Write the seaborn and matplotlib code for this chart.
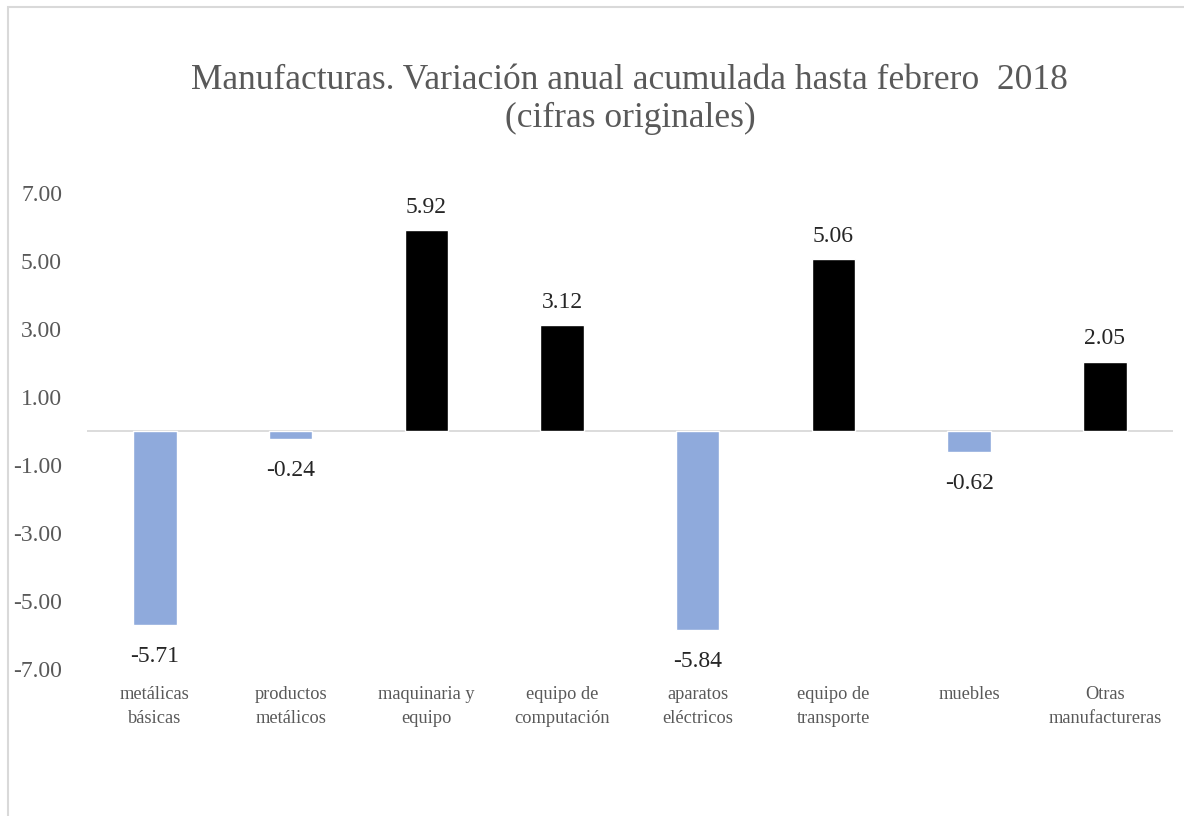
import numpy as np
import pandas as pd
import matplotlib
matplotlib.use("Agg")
import matplotlib.pyplot as plt
import seaborn as sns
from matplotlib.patches import Rectangle

categorias = ["metálicas\nbásicas", "productos\nmetálicos", "maquinaria y\nequipo",
              "equipo de\ncomputación", "aparatos\neléctricos", "equipo de\ntransporte",
              "muebles", "Otras\nmanufactureras"]
variacion = [-5.71, -0.24, 5.92, 3.12, -5.84, 5.06, -0.62, 2.05]
yticks = [-7, -5, -3, -1, 1, 3, 5, 7]

sns.set_theme(style="white")
plt.rcParams['font.family'] = ['Liberation Serif', 'DejaVu Serif']

gris = "#595959"
colores = ["#8FAADC" if v < 0 else "#000000" for v in variacion]
df = pd.DataFrame({"cat": categorias, "val": variacion})

fig = plt.figure(figsize=(11.84, 8.16), dpi=100)
ax = fig.add_axes([0.0735, 0.18, 0.917, 0.583])

sns.barplot(data=df, x="cat", y="val", hue="cat", palette=colores,
            legend=False, width=0.32, saturation=1, ax=ax)

ax.set_ylim(-7, 7)
ax.set_xlim(-0.5, len(categorias) - 0.5)
ax.set_yticks(yticks)
ax.set_yticklabels([f"{t:.2f}" for t in yticks], color=gris, fontsize=17)
ax.tick_params(axis="y", length=0, pad=18)
ax.tick_params(axis="x", length=0, pad=12, labelsize=13.2, labelcolor=gris)
for lbl in ax.get_xticklabels():
    lbl.set_linespacing(1.55)
ax.set_xlabel("")
ax.set_ylabel("")
for s in ax.spines.values():
    s.set_visible(False)
ax.axhline(0, color="#D9D9D9", lw=1.3, zorder=0)

for cont in ax.containers:
    v = cont.datavalues[0]
    ax.bar_label(cont, labels=[f"{v:.2f}"], padding=9 if v > 0 else 15,
                 fontsize=17, color="#262626")

ax.set_title("Manufacturas. Variación anual acumulada hasta febrero  2018\n(cifras originales)",
             fontsize=25.5, color=gris, pad=48, linespacing=1.2)

# chart border
fig.patches.append(Rectangle((8 / 1184, -0.2), 1.2, 1.2 - 7 / 816,
                             transform=fig.transFigure, fill=False,
                             edgecolor="#D9D9D9", lw=1.5))

fig.savefig("out.png", dpi=100)
